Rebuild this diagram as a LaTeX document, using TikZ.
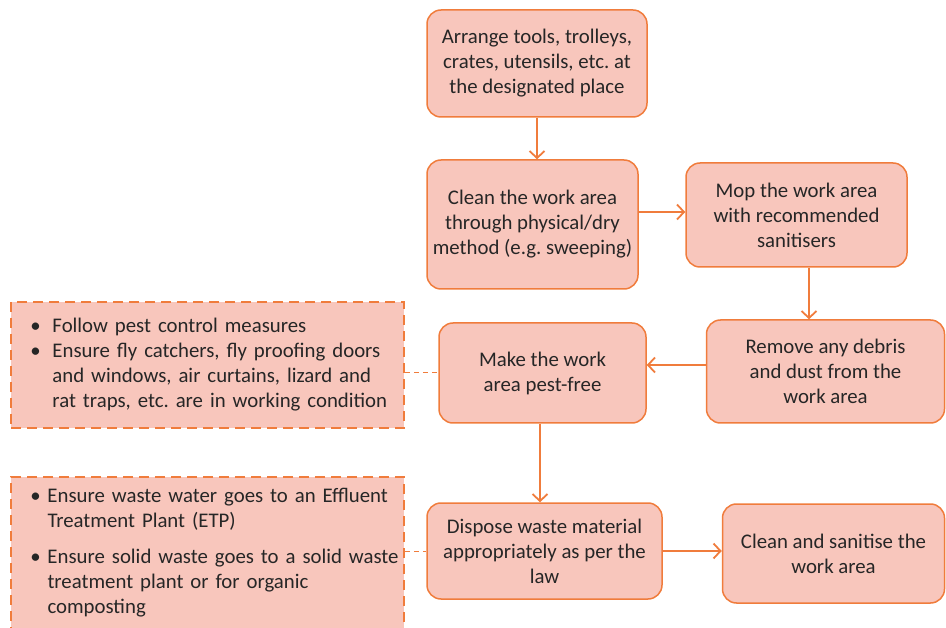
\documentclass[tikz,border=0pt]{standalone}
\usepackage{fontspec}
\setmainfont{Carlito}
\usetikzlibrary{arrows.meta}
\definecolor{boxfill}{HTML}{F8C6BC}
\definecolor{boxline}{HTML}{F07C3C}
\definecolor{txt}{HTML}{262626}
\frenchspacing
\newcommand\notesetup{\leftskip=12pt\relax}
\newcommand\bitem[2]{\noindent\makebox[#1][l]{\hspace{1pt}\textbullet}\begin{tabular}[t]{@{}l@{}}#2\end{tabular}\par}
\begin{document}
\begin{tikzpicture}[x=1pt,y=-1pt,
  flow/.style={draw=boxline, fill=boxfill, line width=1.5pt, rounded corners=14pt,
    text=txt, align=center, inner sep=0pt, font=\fontsize{20.8}{25}\selectfont},
  note/.style={draw=boxline, fill=boxfill, line width=1.5pt, dash pattern=on 10pt off 6pt,
    text=txt, inner sep=0pt, align=left, text width=380pt,
    font=\fontsize{20.8}{25}\selectfont},
  arr/.style={draw=boxline, line width=1.8pt, -{Straight Barb[length=7pt,width=15pt]}},
  link/.style={draw=boxline, line width=1pt, dash pattern=on 5pt off 4pt}]
\useasboundingbox (0,0) rectangle (946,628);

\node[flow, minimum width=220pt, minimum height=107pt] (n1) at (537,63.5)
  {Arrange tools, trolleys,\\crates, utensils, etc. at\\the designated place};
\node[flow, minimum width=211pt, minimum height=129pt] (n2) at (532.5,224.5)
  {Clean the work area\\through physical/dry\\method (e.g. sweeping)};
\node[flow, minimum width=221pt, minimum height=104pt] (n3) at (796.5,215)
  {Mop the work area\\with recommended\\sanitisers};
\node[flow, minimum width=238pt, minimum height=103pt] (n4) at (825.5,371.5)
  {Remove any debris\\and dust from the\\work area};
\node[flow, minimum width=207pt, minimum height=100pt] (n5) at (542.5,373)
  {Make the work\\area pest-free};
\node[flow, minimum width=235pt, minimum height=96pt] (n6) at (544.5,551)
  {Dispose waste material\\appropriately as per the\\law};
\node[flow, minimum width=222pt, minimum height=99pt] (n7) at (833.5,553.5)
  {Clean and sanitise the\\work area};

\node[note, minimum width=393pt, minimum height=126pt] (p1) at (207.5,365)
  {\notesetup
   \bitem{23pt}{Follow pest control measures}%
   \bitem{23pt}{Ensure fly catchers, fly proofing doors\\ and windows, air curtains, lizard and\\ rat traps, etc. are in working condition}};
\node[note, minimum width=393pt, minimum height=152pt] (p2) at (207.5,553)
  {\notesetup
   \bitem{18pt}{Ensure waste water goes to an Effluent\\ Treatment Plant (ETP)}\vspace{10pt}%
   \bitem{18pt}{Ensure solid waste goes to a solid waste\\ treatment plant or for organic\\ composting}};

\draw[arr] (n1.south) -- (n1.south |- n2.north);
\draw[arr] ([yshift=12.5pt]n2.east) -- ([yshift=12.5pt]n2.east -| n3.west);
\draw[arr] ([xshift=12.5pt]n3.south) -- ([xshift=12.5pt]n3.south |- n4.north);
\draw[arr] ([yshift=6.5pt]n4.west) -- ([yshift=6.5pt]n4.west -| n5.east);
\draw[arr] ([xshift=-2.5pt]n5.south) -- ([xshift=-2.5pt]n5.south |- n6.north);
\draw[arr] (n6.east) -- (n6.east -| n7.west);

\draw[link] (n5.west -| p1.east) -- (n5.west);
\draw[link] (n6.west -| p2.east) -- (n6.west);
\end{tikzpicture}
\end{document}
